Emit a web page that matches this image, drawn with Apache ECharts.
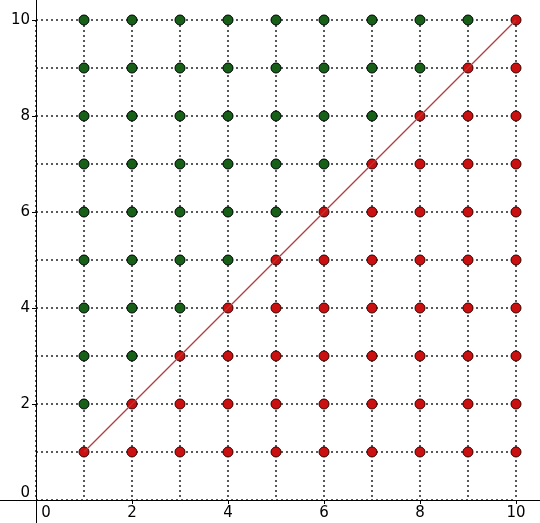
<!DOCTYPE html>
<html>
<head>
<meta charset="utf-8">
<script src="https://cdn.jsdelivr.net/npm/echarts@6/dist/echarts.min.js"></script>
<style>
  html, body { margin: 0; padding: 0; background: #fff; }
  #chart { width: 540px; height: 523px; }
</style>
</head>
<body>
<div id="chart"></div>
<script>
// lattice values 1..10 on both axes
const xValues = [1, 2, 3, 4, 5, 6, 7, 8, 9, 10];
const yValues = [10, 9, 8, 7, 6, 5, 4, 3, 2, 1];
// colour of each dot, one row per y (top row is y = 10), G = green, R = red
const dotRows = [
  "GGGGGGGGGR",
  "GGGGGGGGRR",
  "GGGGGGGRRR",
  "GGGGGGRRRR",
  "GGGGGRRRRR",
  "GGGGRRRRRR",
  "GGGRRRRRRR",
  "GGRRRRRRRR",
  "GRRRRRRRRR",
  "RRRRRRRRRR",
];
// diagonal line ends
const lineX = [1, 10];
const lineY = [1, 10];
// tick labels
const tickLabels = [0, 2, 4, 6, 8, 10];
const tickMarks = [2, 4, 6, 8, 10];

const greenDots = [];
const redDots = [];
dotRows.forEach((row, r) => {
  row.split("").forEach((c, i) => {
    const p = [xValues[i], yValues[r]];
    if (c === "G") greenDots.push(p); else redDots.push(p);
  });
});

const font = { fontFamily: "DejaVu Sans", fontSize: 15, color: "#000" };
const dotted = { color: "#222", width: 1.5, type: [2, 3] };
const inner = { left: 36, right: 24, top: 20, bottom: 23, outerBoundsMode: "none" };

// plain 0..10 axis for the dotted grid (one line per unit)
const gridAxis = (gi) => ({
  gridIndex: gi,
  type: "value",
  min: 0,
  max: 10,
  interval: 1,
  axisLine: { show: false },
  axisTick: { show: false },
  axisLabel: { show: false },
  splitLine: { show: true, lineStyle: dotted },
});

const chart = echarts.init(document.getElementById("chart"));
chart.setOption({
  animation: false,
  grid: [
    // outer frame carrying the long axis lines
    { left: 0, right: 0, top: 0, bottom: 0, outerBoundsMode: "none" },
    // dotted grid and data
    inner,
    // labels and ticks
    inner,
  ],
  xAxis: [
    {
      gridIndex: 0,
      type: "value",
      min: -0.75,
      max: 10.5,
      axisLine: { onZero: true, lineStyle: { color: "#000", width: 1 } },
      axisTick: { show: false },
      axisLabel: { show: false },
      splitLine: { show: false },
    },
    gridAxis(1),
    {
      gridIndex: 2,
      type: "value",
      min: 0,
      max: 10,
      axisLine: { show: false },
      axisTick: { show: true, length: 4, customValues: tickMarks, lineStyle: { color: "#000" } },
      axisLabel: {
        ...font,
        margin: 6,
        customValues: tickLabels,
        formatter: (v) => (v === 0 ? "{z|0}" : String(v)),
        rich: { z: { ...font, padding: [0, 0, 0, 20] } },
      },
      splitLine: { show: false },
    },
  ],
  yAxis: [
    {
      gridIndex: 0,
      type: "value",
      min: -23 / 48,
      max: 500 / 48,
      axisLine: { onZero: true, lineStyle: { color: "#000", width: 1 } },
      axisTick: { show: false },
      axisLabel: { show: false },
      splitLine: { show: false },
    },
    gridAxis(1),
    {
      gridIndex: 2,
      type: "value",
      min: 0,
      max: 10,
      axisLine: { show: false },
      axisTick: { show: true, length: 4, customValues: tickMarks, lineStyle: { color: "#000" } },
      axisLabel: {
        ...font,
        margin: 6,
        customValues: tickLabels,
        formatter: (v) => (v === 0 ? "{z|0}" : String(v)),
        rich: { z: { ...font, padding: [0, 0, 14, 0] } },
      },
      splitLine: { show: false },
    },
  ],
  series: [
    {
      type: "line",
      xAxisIndex: 1,
      yAxisIndex: 1,
      data: lineX.map((x, i) => [x, lineY[i]]),
      symbol: "none",
      color: "#b03a3a",
      lineStyle: { color: "#b03a3a", width: 1.2 },
    },
    {
      type: "scatter",
      xAxisIndex: 1,
      yAxisIndex: 1,
      data: greenDots,
      symbolSize: 10,
      itemStyle: { color: "#17601a", borderColor: "#000", borderWidth: 1, opacity: 1 },
    },
    {
      type: "scatter",
      xAxisIndex: 1,
      yAxisIndex: 1,
      data: redDots,
      symbolSize: 10,
      itemStyle: { color: "#cc1010", borderColor: "#300", borderWidth: 1, opacity: 1 },
    },
  ],
});
</script>
</body>
</html>
